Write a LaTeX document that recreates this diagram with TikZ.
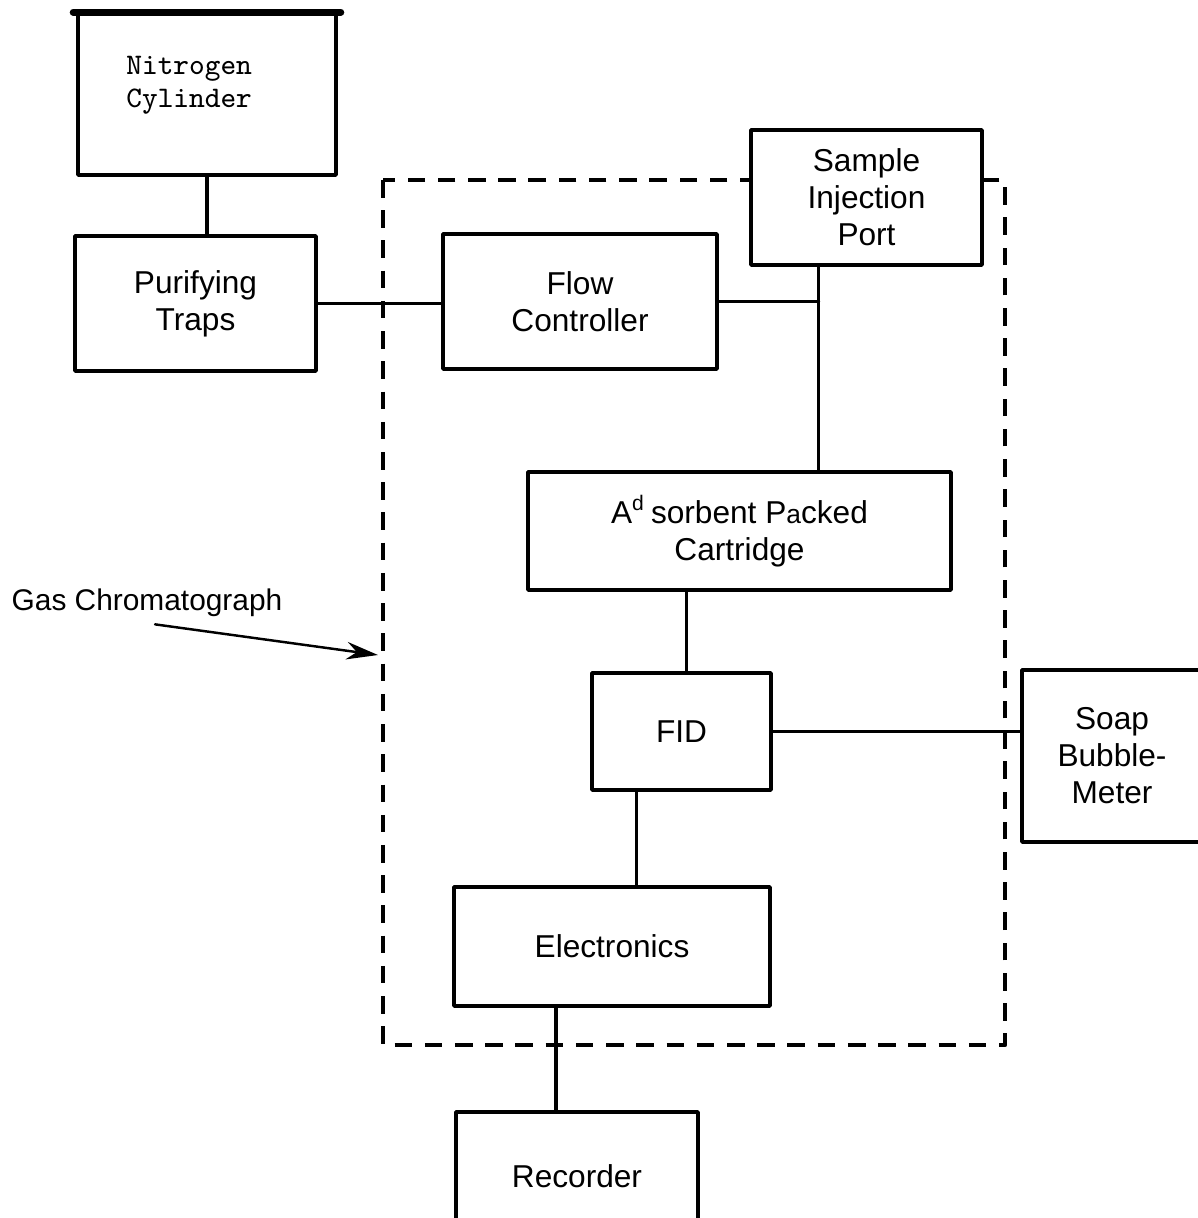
\documentclass[tikz,border=0pt]{standalone}
\usepackage{fontspec}
\setmainfont{Liberation Sans}
\usetikzlibrary{calc,arrows.meta}
\begin{document}
\begin{tikzpicture}[font=\fontsize{9pt}{10.5pt}\selectfont, line join=round, line cap=round, >={Stealth[length=9pt,width=5pt]},
	box/.style={draw, line width=1pt, fill=white, align=center, inner sep=0pt},
	pipe/.style={line width=1pt},
	gcframe/.style={line width=1.2pt, dash pattern=on 5pt off 3.6pt, line cap=butt}]
	\useasboundingbox (0,0) rectangle (11.98,-12.18);
	
	% Khung gas chromatograph
	\draw[gcframe] (3.83,-1.80) rectangle (10.05,-10.45);
	
	% Cac hop
	\node[box, minimum width=2.58cm, minimum height=1.61cm] (nitro) at (2.07,-0.945) {};
	\node[anchor=north west, align=left, font=\ttfamily\fontsize{8.5pt}{9.2pt}\selectfont] (nitrotext) at (1.14,-0.44) {Nitrogen\\Cylinder};
	\draw[line width=2pt] ([xshift=-0.03cm]nitro.north west) -- ([xshift=0.03cm]nitro.north east);
	\node[box, minimum width=2.41cm, minimum height=1.35cm] (purify) at (1.955,-3.035) {Purifying\\Traps};
	\node[box, minimum width=2.74cm, minimum height=1.35cm] (flow) at (5.80,-3.015) {Flow\\Controller};
	\node[box, minimum width=2.31cm, minimum height=1.35cm] (sample) at (8.665,-1.975) {Sample\\Injection\\Port};
	\node[box, minimum width=4.23cm, minimum height=1.18cm] (adsorb) at (7.395,-5.31) {A\textsuperscript{d}\,sorbent P{\fontsize{7.5pt}{9pt}\selectfont a}cked\\Cartridge};
	\node[box, minimum width=1.79cm, minimum height=1.17cm] (fid) at (6.815,-7.315) {FID};
	\node[box, minimum width=1.80cm, minimum height=1.72cm] (soap) at (11.12,-7.56) {Soap\\Bubble-\\Meter};
	\node[box, minimum width=3.16cm, minimum height=1.19cm] (elec) at (6.12,-9.465) {Electronics};
	\node[box, minimum width=2.42cm, minimum height=1.28cm] (rec) at (5.77,-11.76) {Recorder};
	
	% Cac duong noi
	\coordinate (tee) at ([xshift=-0.48cm]sample.south |- flow.east);
	\draw[pipe] (nitro.south) -- (nitro.south |- purify.north);
	\draw[pipe] (purify.east) -- (purify.east -| flow.west);
	\draw[pipe] (flow.east) -- (tee);
	\draw[pipe] (sample.south -| tee) -- (adsorb.north -| tee);
	\draw[pipe] ([xshift=0.05cm]adsorb.south -| fid.north) -- ([xshift=0.05cm]fid.north);
	\draw[pipe] (fid.east) -- (fid.east -| soap.west);
	\draw[pipe] ([xshift=-0.45cm]fid.south) -- ([xshift=-0.45cm]fid.south |- elec.north);
	\draw[pipe] ([xshift=-0.56cm]elec.south) -- ([xshift=-0.56cm]elec.south |- rec.north);
	
	% Nhan va mui ten
	\node[font=\fontsize{8.5pt}{10pt}\selectfont] (gclabel) at (1.47,-6.03) {Gas Chromatograph};
	\coordinate (gctip) at (3.78,-6.55);
	\draw[->, line width=0.7pt] ([xshift=0.08cm,yshift=0.05cm]gclabel.south) -- (gctip);
\end{tikzpicture}
\end{document}
